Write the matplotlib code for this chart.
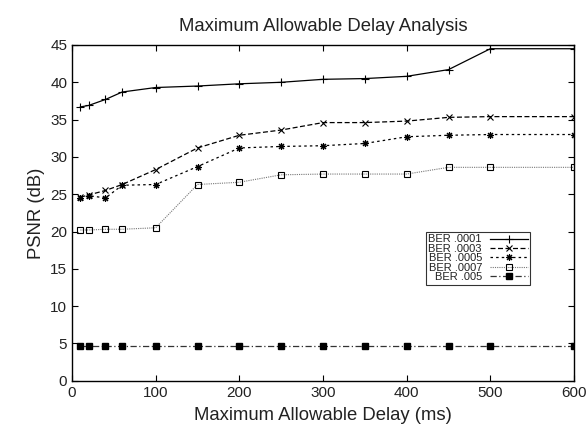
import matplotlib
matplotlib.use("Agg")
import matplotlib.pyplot as plt

plt.rcParams['font.family'] = ['Liberation Sans', 'DejaVu Sans']
plt.rcParams['text.color'] = '#222222'
plt.rcParams['xtick.labelcolor'] = '#222222'
plt.rcParams['ytick.labelcolor'] = '#222222'
plt.rcParams['axes.labelcolor'] = '#222222'

delay = [10, 20, 40, 60, 100, 150, 200, 250, 300, 350, 400, 450, 500, 600]
ber_0001 = [36.7, 36.9, 37.7, 38.7, 39.3, 39.5, 39.8, 40.0, 40.4, 40.5, 40.8, 41.7, 44.5, 44.5]
ber_0003 = [24.6, 24.9, 25.5, 26.3, 28.3, 31.2, 32.9, 33.6, 34.6, 34.6, 34.8, 35.3, 35.4, 35.4]
ber_0005 = [24.5, 24.8, 24.5, 26.2, 26.3, 28.7, 31.2, 31.4, 31.5, 31.8, 32.7, 32.9, 33.0, 33.0]
ber_0007 = [20.2, 20.2, 20.3, 20.3, 20.5, 26.3, 26.6, 27.6, 27.7, 27.7, 27.7, 28.6, 28.6, 28.6]
ber_005 = [4.6] * 14
labels = ["BER .0001", "BER .0003", "BER .0005", "BER .0007", "BER .005"]

fig = plt.figure(figsize=(5.88, 4.34), dpi=100)
ax = fig.add_axes([72/588, 1-380.7/434, (574-72)/588, (380.7-45)/434])

ax.plot(delay, ber_0001, color='black', lw=0.9, ls='-', marker='+', ms=6, mew=0.8, label=labels[0])
ax.plot(delay, ber_0003, color='black', lw=0.9, ls=(0, (4, 2)), marker='x', ms=4.5, mew=0.8, label=labels[1])
ax.plot(delay, ber_0005, color='black', lw=0.9, ls=(0, (2, 2.5)), marker=(8, 2, 0), ms=5, mew=0.8, label=labels[2])
ax.plot(delay, ber_0007, color='#777777', lw=0.8, ls=(0, (1, 1)), marker='s', ms=4.3, mfc='none', mec='black', mew=0.8, label=labels[3])
ax.plot(delay, ber_005, color='#333333', lw=0.9, ls=(0, (5, 2, 1, 2)), marker='s', ms=4.5, mfc='black', mec='black', label=labels[4])

ax.set_xlim(0, 600)
ax.set_ylim(0, 45)
ax.set_xticks(range(0, 601, 100))
ax.set_yticks(range(0, 46, 5))
ax.tick_params(direction='in', top=True, right=True, labelsize=11, length=4, width=0.8)
for s in ax.spines.values():
    s.set_linewidth(1.0)

ax.set_xlabel("Maximum Allowable Delay (ms)", fontsize=13.3, labelpad=5)
ax.set_ylabel("PSNR (dB)", fontsize=13.3)
ax.set_title("Maximum Allowable Delay Analysis", fontsize=13.3, pad=10)

leg = ax.legend(loc='upper left', bbox_to_anchor=((425.7-72)/502, (380.7-231.7)/335.7),
                fontsize=8, frameon=True, fancybox=False, edgecolor='black',
                markerfirst=False, handlelength=3.4, labelspacing=-0.05,
                borderpad=0.25, handletextpad=0.7, borderaxespad=0)
leg.get_frame().set_linewidth(0.8)
for t in leg.get_texts():
    t.set_ha('right')

fig.savefig("out.png", dpi=100)
